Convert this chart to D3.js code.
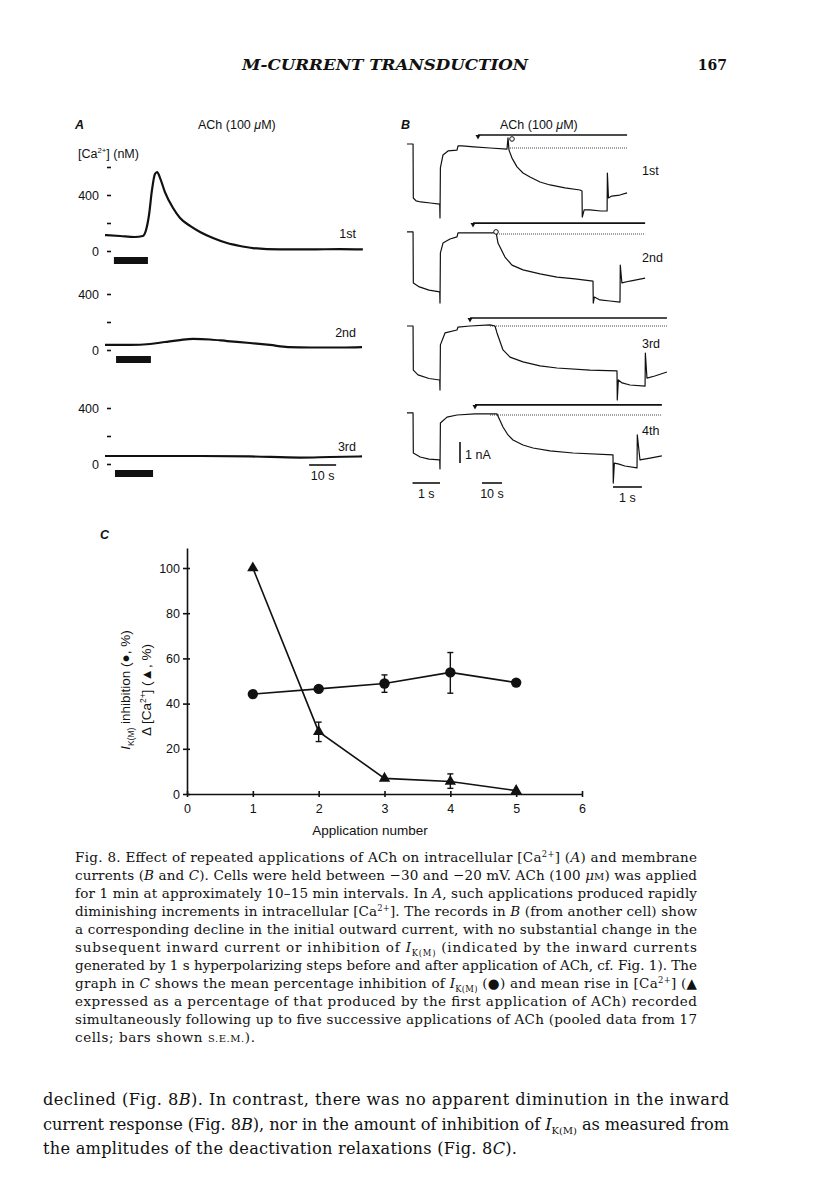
<!DOCTYPE html>
<html><head><meta charset="utf-8">
<script src="https://cdnjs.cloudflare.com/ajax/libs/d3/7.8.5/d3.min.js"></script>
<style>
html,body{margin:0;padding:0;background:#fff;}
svg{display:block;}
text{white-space:pre;}
</style></head><body>
<svg id="page" width="816" height="1200"></svg>
<script>
// ================= DATA =================
// Panel C : application number vs % values
const appNumbers    = [1, 2, 3, 4, 5];
const ikmInhibition = [44.2, 46.5, 48.9, 53.8, 49.3];
const ikmErrLow     = [null, null, 45.0, 44.6, null];
const ikmErrHigh    = [null, null, 52.7, 62.6, null];
const caRise        = [100, 27.6, 6.9, 5.5, 1.5];
const caErrLow      = [null, 23.2, null, 2.5, null];
const caErrHigh     = [null, 31.8, null, 8.9, null];
const xTicksC = [0, 1, 2, 3, 4, 5, 6];
const yTicksC = [0, 20, 40, 60, 80, 100];

// Panel A : [time (s), [Ca2+] (nM)]
const caTrace1st = [[0,114],[5.6,107],[11,100],[14,107],[15.2,150],[16.3,257],[17.4,436],[18.5,550],[19.3,564],[20.4,521],[22.2,421],[25.2,307],[27.8,236],[31.5,179],[35.2,136],[40,93],[45.2,57],[50,36],[54.8,21],[64.8,11],[75.9,11],[87,14],[95.5,11]];
const caTrace2nd = [[0,36],[9.3,36],[16.7,43],[22.2,57],[27.8,71],[32.6,79],[38.9,75],[45.2,64],[53.7,50],[61.1,36],[67.8,21],[76.3,18],[87.4,18],[95.2,21]];
const caTrace3rd = [[0,57],[16.7,57],[35.2,57],[53.7,54],[72.2,46],[83.3,50],[95.2,54]];
const achBarsA = [[3.3, 15.9], [4.1, 17.0], [3.7, 17.8]];
const traceLabelsA = ['1st', '2nd', '3rd'];
const caTicks1st = [0, 200, 400, 600];
const caTicksOther = [0, 200, 400];
const caTickLabels = {0: '0', 400: '400'};

// Panel B : membrane current (nA, relative to holding level) vs time (s)
// each sweep: pre (first 1 s step, fast), slow (ACh period), post (second 1 s step, fast)
const sweep1Pre  = [[0,0.19],[0.22,0.19],[0.23,-2.38],[0.33,-2.52],[0.5,-2.57],[0.85,-2.62],[1.19,-2.67],[1.2,-3.33]];
const sweep1Slow = [[0,-3.33],[0.2,-0.95],[1.5,-0.33],[4,-0.14],[8.5,-0.1],[9,0.1],[11,0.1],[17,0.05],[25,0],[33.5,-0.05],[34,0.48],[34.5,-0.1],[36,-0.48],[38.5,-0.9],[41.5,-1.19],[45,-1.38],[50,-1.62],[55,-1.76],[62.5,-1.9],[70,-2.0],[71,-2.05]];
const sweep1Post = [[0,-2.05],[0.01,-3.29],[0.08,-2.95],[0.3,-2.95],[0.7,-3.0],[0.93,-3.0],[0.94,-1.19],[0.98,-2.38],[1.1,-2.29],[1.4,-2.24],[1.67,-2.14]];
const sweep2Pre  = [[0,0.1],[0.22,0.1],[0.23,-2.33],[0.45,-2.52],[0.8,-2.67],[1.19,-2.76],[1.2,-3.29]];
const sweep2Slow = [[0,-3.29],[0.2,-0.9],[1.5,-0.43],[5,-0.24],[8.5,-0.14],[9,0.05],[15,0.05],[26.5,0.05],[28,0.1],[29,-0.43],[32.5,-1.1],[36,-1.48],[41.5,-1.71],[50,-1.9],[58.5,-2.05],[67.5,-2.14],[76.5,-2.24]];
const sweep2Post = [[0,-2.24],[0.01,-3.29],[0.05,-3.0],[0.26,-3.14],[0.63,-3.19],[1.0,-3.24],[1.01,-1.48],[1.07,-2.33],[1.37,-2.24],[1.93,-2.1]];
const sweep3Pre  = [[0,0],[0.22,0],[0.23,-2.1],[0.4,-2.33],[0.8,-2.5],[1.19,-2.57],[1.2,-3.05]];
const sweep3Slow = [[0,-3.05],[0.2,-0.9],[2.5,-0.33],[8.5,-0.19],[9,-0.05],[15,0],[25,0.05],[27.5,0],[28.5,-0.33],[31.5,-1.14],[35,-1.48],[41.5,-1.71],[50,-1.9],[58.5,-2.0],[75,-2.1],[88.5,-2.14]];
const sweep3Post = [[0,-2.14],[0.01,-3.52],[0.05,-2.57],[0.19,-2.71],[0.48,-2.81],[1.04,-2.86],[1.05,-1.29],[1.11,-2.48],[1.4,-2.38],[1.85,-2.19]];
const sweep4Pre  = [[0,0.1],[0.22,0.1],[0.23,-1.81],[0.48,-2.0],[0.8,-2.1],[1.19,-2.14],[1.2,-2.57]];
const sweep4Slow = [[0,-2.57],[0.2,-0.38],[3.5,-0.1],[8.5,0],[17.5,0.05],[28.5,0.05],[31.5,-0.57],[34,-0.95],[36.5,-1.19],[41.5,-1.43],[46.5,-1.57],[55,-1.71],[66.5,-1.81],[86.5,-1.9]];
const sweep4Post = [[0,-1.9],[0.01,-3.24],[0.05,-2.29],[0.19,-2.33],[0.44,-2.43],[0.89,-2.52],[0.9,-0.95],[1.0,-2.14],[1.37,-2.05],[1.81,-1.95]];
const sweepLabelsB = ['1st', '2nd', '3rd', '4th'];
const slowDuration = [71, 76.5, 88.5, 86.5];      // s
const achOnsetB    = [19, 16.5, 15, 17.5];       // s into slow segment
const dottedOnsetB = [35, 28.5, 25, 25];
const achLevelB    = [0.62, 0.52, 0.38, 0.48];   // nA (marker line level)
const onsetMarksB  = [[36, 0.43], [28, 0.1], null, null];

// Texts
const captionLines = [
  "Fig. 8. Effect of repeated applications of ACh on intracellular [Ca^{2+}] (_A_) and membrane",
  "currents (_B_ and _C_). Cells were held between \u221230 and \u221220 mV. ACh (100 _\u03bc_%{M}) was applied",
  "for 1 min at approximately 10\u201315 min intervals. In _A_, such applications produced rapidly",
  "diminishing increments in intracellular [Ca^{2+}]. The records in _B_ (from another cell) show",
  "a corresponding decline in the initial outward current, with no substantial change in the",
  "subsequent inward current or inhibition of _I_~{K(M)} (indicated by the inward currents",
  "generated by 1 s hyperpolarizing steps before and after application of ACh, cf. Fig. 1). The",
  "graph in _C_ shows the mean percentage inhibition of _I_~{K(M)} (\u25cf) and mean rise in [Ca^{2+}] (\u25b2",
  "expressed as a percentage of that produced by the first application of ACh) recorded",
  "simultaneously following up to five successive applications of ACh (pooled data from 17",
  "cells; bars shown %{S.E.M.})."
];
const bodyLines = [
  "declined (Fig. 8_B_). In contrast, there was no apparent diminution in the inward",
  "current response (Fig. 8_B_), nor in the amount of inhibition of _I_~{K(M)} as measured from",
  "the amplitudes of the deactivation relaxations (Fig. 8_C_)."
];

// ================= DRAWING =================
const ink = '#111';
const sans = "'Liberation Sans', Arial, sans-serif";
const serif = "'DejaVu Serif', serif";
const svg = d3.select('#page');
svg.append('rect').attr('width', 816).attr('height', 1200).attr('fill', '#fff');

function richText(g, x, y, str, opt) {
  const t = g.append('text').attr('x', x).attr('y', y)
    .attr('font-family', opt.family).attr('font-size', opt.size).attr('fill', ink);
  if (opt.anchor) t.attr('text-anchor', opt.anchor);
  if (opt.weight) t.attr('font-weight', opt.weight);
  if (opt.style) t.attr('font-style', opt.style);
  if (opt.transform) t.attr('transform', opt.transform);
  const parts = str.split(/(_[^_]+_|\^\{[^}]+\}|~\{[^}]+\}|%\{[^}]+\})/).filter(s => s.length);
  let shift = 0;
  parts.forEach(p => {
    let txt = p, size = null, italic = false, newShift = 0;
    if (p.length > 2 && p[0] === '_' && p[p.length - 1] === '_') { txt = p.slice(1, -1); italic = true; }
    else if (p.startsWith('^{')) { txt = p.slice(2, -1); size = opt.size * 0.62; newShift = -opt.size * 0.38; }
    else if (p.startsWith('~{')) { txt = p.slice(2, -1); size = opt.size * 0.62; newShift = opt.size * 0.28; }
    else if (p.startsWith('%{')) { txt = p.slice(2, -1); size = opt.size * 0.74; }
    const ts = t.append('tspan').text(txt);
    if (newShift !== shift) { ts.attr('dy', newShift - shift); shift = newShift; }
    if (size) ts.attr('font-size', size);
    if (italic) ts.attr('font-style', 'italic');
  });
  if (opt.width) t.attr('textLength', opt.width).attr('lengthAdjust', opt.adjust || 'spacing');
  return t;
}

// ---- Page header ----
svg.append('text').attr('x', 242).attr('y', 70).attr('font-family', serif).attr('font-size', 14)
  .attr('font-style', 'italic').attr('font-weight', 'bold').attr('fill', ink)
  .attr('textLength', 286).attr('lengthAdjust', 'spacingAndGlyphs').text('M-CURRENT TRANSDUCTION');
svg.append('text').attr('x', 727).attr('y', 70).attr('text-anchor', 'end').attr('font-family', serif)
  .attr('font-size', 14).attr('font-weight', 'bold').attr('fill', ink).text('167');

// ---- Panel A ----
const fsA = 12.5;
const gA = svg.append('g');
richText(gA, 75, 129, '_A_', {family: sans, size: fsA, weight: 'bold'});
richText(gA, 198, 129, 'ACh (100 _\u03bc_M)', {family: sans, size: fsA});
richText(gA, 78, 158, '[Ca^{2+}] (nM)', {family: sans, size: fsA});
const xA = d3.scaleLinear().domain([0, 100]).range([105, 375]);
const aBase = [251, 350, 464];
const caTraces = [caTrace1st, caTrace2nd, caTrace3rd];
caTraces.forEach((tr, i) => {
  const yA = d3.scaleLinear().domain([0, 600]).range([aBase[i], aBase[i] - 84]);
  const ticks = i === 0 ? caTicks1st : caTicksOther;
  const ax = d3.axisLeft(yA).tickValues(ticks).tickSize(4).tickPadding(8)
    .tickFormat(d => caTickLabels[d] || '');
  const g = gA.append('g').attr('transform', 'translate(111,0)').call(ax)
    .attr('font-family', sans).attr('font-size', fsA);
  g.select('.domain').remove();
  g.selectAll('line').attr('stroke', ink).attr('stroke-width', 1.6);
  g.selectAll('text').attr('fill', ink);
  gA.append('path').datum(tr)
    .attr('d', d3.line().x(d => xA(d[0])).y(d => yA(d[1])).curve(d3.curveMonotoneX))
    .attr('fill', 'none').attr('stroke', ink).attr('stroke-width', 2.2);
  const bar = achBarsA[i];
  gA.append('rect').attr('x', xA(bar[0])).attr('width', xA(bar[1]) - xA(bar[0]))
    .attr('y', aBase[i] + 6).attr('height', 7).attr('fill', ink);
  gA.append('text').attr('x', 356).attr('y', aBase[i] - 13).attr('text-anchor', 'end')
    .attr('font-family', sans).attr('font-size', fsA).attr('fill', ink).text(traceLabelsA[i]);
});
// 10 s scale bar
gA.append('line').attr('x1', xA(75.6)).attr('x2', xA(85.6)).attr('y1', 465).attr('y2', 465)
  .attr('stroke', ink).attr('stroke-width', 1.6);
gA.append('text').attr('x', (xA(75.6) + xA(85.6)) / 2).attr('y', 480).attr('text-anchor', 'middle')
  .attr('font-family', sans).attr('font-size', fsA).attr('fill', ink).text('10 s');

// ---- Panel B ----
const gB = svg.append('g');
richText(gB, 401, 129, '_B_', {family: sans, size: fsA, weight: 'bold'});
richText(gB, 500, 129, 'ACh (100 _\u03bc_M)', {family: sans, size: fsA});
const bBase = [148, 234, 326, 415];
const sweeps = [[sweep1Pre, sweep1Slow, sweep1Post], [sweep2Pre, sweep2Slow, sweep2Post],
                [sweep3Pre, sweep3Slow, sweep3Post], [sweep4Pre, sweep4Slow, sweep4Post]];
const bLabelY = [175, 262, 348, 435];
let xB4, yB4;
sweeps.forEach((sw, i) => {
  const S = slowDuration[i];
  const xB = d3.scaleLinear().domain([0, 1.2, 1.2 + S, 1.2 + S + 2.2])
    .range([407, 440, 440 + 2 * S, 440 + 2 * S + 27 * 2.2]);
  const yB = d3.scaleLinear().domain([0, 1]).range([bBase[i], bBase[i] - 21]);
  const pts = [].concat(sw[0].map(d => [d[0], d[1]]),
                        sw[1].map(d => [1.2 + d[0], d[1]]),
                        sw[2].map(d => [1.2 + S + d[0], d[1]]));
  const tEnd = pts[pts.length - 1][0];
  // dotted reference line
  gB.append('line').attr('x1', xB(1.2 + dottedOnsetB[i])).attr('x2', xB(tEnd))
    .attr('y1', yB(0)).attr('y2', yB(0)).attr('stroke', '#444').attr('stroke-width', 1)
    .attr('stroke-dasharray', '1,1');
  // ACh marker line
  const xa = xB(1.2 + achOnsetB[i]), ya = yB(achLevelB[i]);
  gB.append('line').attr('x1', xa).attr('x2', xB(tEnd)).attr('y1', ya).attr('y2', ya)
    .attr('stroke', ink).attr('stroke-width', 1.6);
  gB.append('path').attr('d', `M${xa - 2.5},${ya}L${xa + 2.5},${ya}L${xa},${ya + 4.5}Z`).attr('fill', ink);
  // trace
  gB.append('path').datum(pts)
    .attr('d', d3.line().x(d => xB(d[0])).y(d => yB(d[1])))
    .attr('fill', 'none').attr('stroke', ink).attr('stroke-width', 1.2).attr('stroke-linejoin', 'round');
  const m = onsetMarksB[i];
  if (m) gB.append('circle').attr('cx', xB(1.2 + m[0])).attr('cy', yB(m[1])).attr('r', 2.3)
    .attr('fill', '#fff').attr('stroke', ink).attr('stroke-width', 1);
  gB.append('text').attr('x', 642).attr('y', bLabelY[i]).attr('font-family', sans)
    .attr('font-size', fsA).attr('fill', ink).text(sweepLabelsB[i]);
  if (i === 3) { xB4 = xB; yB4 = yB; }
});
// scale bars (panel B)
const S4 = slowDuration[3];
gB.append('line').attr('x1', xB4(1.2 + 10)).attr('x2', xB4(1.2 + 10)).attr('y1', yB4(-1.29)).attr('y2', yB4(-2.29))
  .attr('stroke', ink).attr('stroke-width', 1.6);
gB.append('text').attr('x', xB4(1.2 + 10) + 5).attr('y', 459).attr('font-family', sans).attr('font-size', fsA)
  .attr('fill', ink).text('1 nA');
const tBars = [[0.2, 1.2, 483, '1 s'], [1.2 + 21, 1.2 + 31, 483, '10 s'], [1.2 + S4, 1.2 + S4 + 1.07, 487, '1 s']];
tBars.forEach(b => {
  gB.append('line').attr('x1', xB4(b[0])).attr('x2', xB4(b[1])).attr('y1', b[2]).attr('y2', b[2])
    .attr('stroke', ink).attr('stroke-width', 1.6);
  gB.append('text').attr('x', (xB4(b[0]) + xB4(b[1])) / 2).attr('y', b[2] + 15).attr('text-anchor', 'middle')
    .attr('font-family', sans).attr('font-size', fsA).attr('fill', ink).text(b[3]);
});

// ---- Panel C ----
const fsC = 12.5;
const gC = svg.append('g');
richText(gC, 100, 539, '_C_', {family: sans, size: fsA, weight: 'bold'});
const xC = d3.scaleLinear().domain([0, 6]).range([187, 582]);
const yC = d3.scaleLinear().domain([0, 108.85]).range([794, 548]);
const axY = gC.append('g').attr('transform', 'translate(187,0)')
  .call(d3.axisLeft(yC).tickValues(yTicksC).tickSize(4).tickSizeOuter(0).tickPadding(3).tickFormat(d3.format('d')))
  .attr('font-family', sans).attr('font-size', fsC);
axY.selectAll('.tick line').attr('x1', 3).attr('x2', -4);
const axX = gC.append('g').attr('transform', 'translate(0,794)')
  .call(d3.axisBottom(xC).tickValues(xTicksC).tickSize(3).tickSizeOuter(0).tickPadding(7).tickFormat(d3.format('d')))
  .attr('font-family', sans).attr('font-size', fsC);
axX.selectAll('.tick line').attr('y1', -3).attr('y2', 3);
[axY, axX].forEach(a => {
  a.selectAll('path,line').attr('stroke', ink).attr('stroke-width', 1.6);
  a.selectAll('text').attr('fill', ink);
});
gC.append('text').attr('x', 370).attr('y', 835).attr('text-anchor', 'middle').attr('font-family', sans)
  .attr('font-size', 13.5).attr('fill', ink).text('Application number');
richText(gC, 0, 0, '_I_~{K(M)} inhibition (\u25cf, %)', {family: sans, size: 13.5, anchor: 'middle',
  transform: 'translate(130,690) rotate(-90)'});
richText(gC, 0, 0, '\u0394 [Ca^{2+}] (\u25b2, %)', {family: sans, size: 13.5, anchor: 'middle',
  transform: 'translate(151,690) rotate(-90)'});

const lineC = d3.line().x(d => xC(d[0])).y(d => yC(d[1]));
const circData = appNumbers.map((a, i) => [a, ikmInhibition[i], ikmErrLow[i], ikmErrHigh[i]]);
const triData = appNumbers.map((a, i) => [a, caRise[i], caErrLow[i], caErrHigh[i]]);
[circData, triData].forEach(ser => {
  gC.append('path').datum(ser).attr('d', lineC).attr('fill', 'none').attr('stroke', ink).attr('stroke-width', 1.6);
  ser.filter(d => d[2] != null).forEach(d => {
    const x = xC(d[0]);
    gC.append('line').attr('x1', x).attr('x2', x).attr('y1', yC(d[2])).attr('y2', yC(d[3]))
      .attr('stroke', ink).attr('stroke-width', 1.4);
    [d[2], d[3]].forEach(v => gC.append('line').attr('x1', x - 3).attr('x2', x + 3)
      .attr('y1', yC(v)).attr('y2', yC(v)).attr('stroke', ink).attr('stroke-width', 1.4));
  });
});
gC.selectAll('circle.pt').data(circData).join('circle').attr('class', 'pt')
  .attr('cx', d => xC(d[0])).attr('cy', d => yC(d[1])).attr('r', 5.2).attr('fill', ink);
gC.selectAll('path.tri').data(triData).join('path').attr('class', 'tri')
  .attr('d', d3.symbol(d3.symbolTriangle).size(56))
  .attr('transform', d => `translate(${xC(d[0])},${yC(d[1])})`).attr('fill', ink);

// ---- Caption ----
const gT = svg.append('g');
captionLines.forEach((ln, i) => {
  const last = i === captionLines.length - 1;
  richText(gT, 75, 862 + 18 * i, ln, {family: serif, size: 13.5,
    width: last ? 180 : 622, adjust: 'spacing'});
});
// ---- Body text ----
bodyLines.forEach((ln, i) => {
  const last = i === bodyLines.length - 1;
  richText(gT, 43, 1105 + 24.5 * i, ln, {family: serif, size: 16.2,
    width: last ? 474 : 686, adjust: 'spacing'});
});
</script></body></html>
